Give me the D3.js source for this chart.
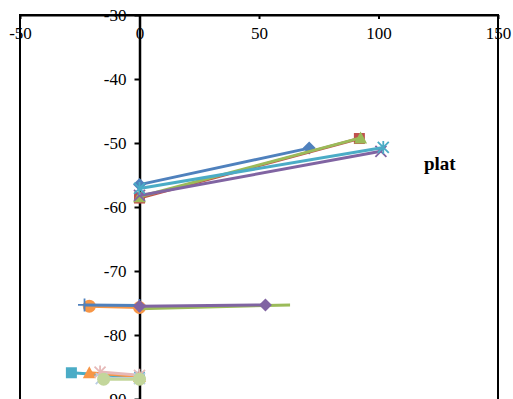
<!DOCTYPE html>
<html>
<head>
<meta charset="utf-8">
<script src="https://cdn.jsdelivr.net/npm/d3@7"></script>
<style>
  body { margin: 0; background: #fff; }
  svg { display: block; }
  .tick text { font-family: "Liberation Serif", "Times New Roman", serif; font-size: 17px; fill: #000; }
</style>
</head>
<body>
<svg id="chart" width="513" height="399"></svg>
<script>
// axis ticks
const xTicks = [-50, 0, 50, 100, 150];
const yTicks = [-30, -40, -50, -60, -70, -80, -90];

// series data (x values / y values per series)
const seriesX = [
  [0, 71], [0, 92], [0, 92.5], [0, 101], [0, 102],
  [-21, 0], [-23, 0], [0, 63], [0, 52.7],
  [-28.5, 0], [-21, 0], [-16.5, 0], [-16, 0], [-15, 0]
];
const seriesY = [
  [-56.5, -50.8], [-58.6, -49.3], [-58.4, -49.2], [-58.2, -51.3], [-57.1, -50.7],
  [-75.5, -75.7], [-75.3, -75.4], [-75.9, -75.3], [-75.5, -75.3],
  [-85.9, -86.6], [-85.9, -86.5], [-85.8, -86.3], [-86.8, -86.8], [-86.9, -86.9]
];
const seriesColor = [
  "#4F81BD", "#C0504D", "#9BBB59", "#8064A2", "#4BACC6",
  "#F79646", "#4F81BD", "#9BBB59", "#8064A2",
  "#4BACC6", "#F79646", "#E6B9B8", "#B9CDE5", "#C3D69B"
];
const seriesMarker = [
  "diamond", "square", "triangle", "x", "star",
  "circle", "plus", "none", "diamond",
  "square", "triangle", "star", "x", "circle"
];

const svg = d3.select("#chart");
const x = d3.scaleLinear().domain([-50, 150]).range([20, 498]);
const y = d3.scaleLinear().domain([-30, -90]).range([15, 399]);

// plot border
svg.append("rect")
  .attr("x", x(-50)).attr("y", y(-30))
  .attr("width", x(150) - x(-50)).attr("height", y(-90) - y(-30) + 5)
  .attr("fill", "none").attr("stroke", "#000").attr("stroke-width", 2);

// x axis along the top
const xAxis = svg.append("g")
  .attr("transform", `translate(0,${y(-30)})`)
  .call(d3.axisBottom(x).tickValues(xTicks).tickFormat(d => String(d)).tickSize(4).tickSizeOuter(0).tickPadding(8));
xAxis.select(".domain").attr("stroke", "#000").attr("stroke-width", 2);
xAxis.selectAll(".tick line").attr("stroke", "#000").attr("stroke-width", 2);

// y axis at x = 0
const yAxis = svg.append("g")
  .attr("transform", `translate(${x(0)},0)`)
  .call(d3.axisLeft(y).tickValues(yTicks).tickFormat(d => String(d)).tickSize(5).tickSizeOuter(0).tickPadding(8));
yAxis.select(".domain").attr("stroke", "#000").attr("stroke-width", 2.5);
yAxis.selectAll(".tick line").attr("stroke", "#000").attr("stroke-width", 2);

const line = d3.line().x(d => x(d[0])).y(d => y(d[1]));

function drawMarker(g, type, px, py, color) {
  const s = 5.5;
  if (type === "diamond") {
    g.append("path").attr("d", `M${px},${py - s - 1}L${px + s + 1},${py}L${px},${py + s + 1}L${px - s - 1},${py}Z`).attr("fill", color);
  } else if (type === "square") {
    g.append("rect").attr("x", px - s).attr("y", py - s).attr("width", 2 * s).attr("height", 2 * s).attr("fill", color);
  } else if (type === "triangle") {
    g.append("path").attr("d", `M${px},${py - s - 1}L${px + s + 1},${py + s}L${px - s - 1},${py + s}Z`).attr("fill", color);
  } else if (type === "circle") {
    g.append("circle").attr("cx", px).attr("cy", py).attr("r", s + 1).attr("fill", color);
  } else if (type === "x") {
    g.append("path").attr("d", `M${px - s},${py - s}L${px + s},${py + s}M${px - s},${py + s}L${px + s},${py - s}`)
      .attr("stroke", color).attr("stroke-width", 1.8);
  } else if (type === "star") {
    g.append("path").attr("d", `M${px - s},${py - s}L${px + s},${py + s}M${px - s},${py + s}L${px + s},${py - s}M${px},${py - s - 1}L${px},${py + s + 1}`)
      .attr("stroke", color).attr("stroke-width", 1.8);
  } else if (type === "plus") {
    g.append("path").attr("d", `M${px - s - 1},${py}L${px + s + 1},${py}M${px},${py - s - 1}L${px},${py + s + 1}`)
      .attr("stroke", color).attr("stroke-width", 1.8);
  }
}

const plot = svg.append("g");
seriesX.forEach((xs, i) => {
  const pts = xs.map((v, j) => [v, seriesY[i][j]]);
  const g = plot.append("g");
  g.append("path").attr("d", line(pts))
    .attr("fill", "none").attr("stroke", seriesColor[i]).attr("stroke-width", 3);
  pts.forEach(p => drawMarker(g, seriesMarker[i], x(p[0]), y(p[1]), seriesColor[i]));
});

svg.append("text")
  .attr("x", 424).attr("y", 170)
  .attr("font-family", "Liberation Serif, Times New Roman, serif")
  .attr("font-size", 19).attr("font-weight", "bold")
  .text("plat");
</script>
</body>
</html>
